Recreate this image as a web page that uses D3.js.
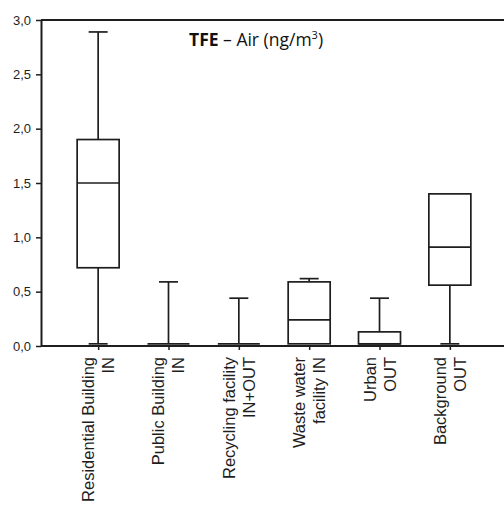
<!DOCTYPE html>
<meta charset="utf-8">
<head>
<style>
  body { margin: 0; background: white; font-family: "Liberation Sans", Arial, sans-serif; }
  svg { display: block; }
</style>
<script src="https://cdn.jsdelivr.net/npm/d3@7"></script>
</head>
<body>
<svg id="chart"></svg>
<script>
// label lines for each group (two lines each, drawn rotated)
let labelTop = ["Residential Building", "Public Building", "Recycling facility", "Waste water", "Urban", "Background"]
let labelBottom = ["IN", "IN", "IN+OUT", "facility IN", "OUT", "OUT"]

// box plot statistics (ng/m3)
let whiskerLow = [0.02, 0.02, 0.02, 0.02, 0.02, 0.02]
let q1 = [0.72, 0.02, 0.02, 0.02, 0.02, 0.56]
let median = [1.50, 0.02, 0.02, 0.24, 0.02, 0.91]
let q3 = [1.90, 0.02, 0.02, 0.59, 0.13, 1.40]
let whiskerHigh = [2.89, 0.59, 0.44, 0.62, 0.44, 1.40]

let yTicks = [0, 0.5, 1.0, 1.5, 2.0, 2.5, 3.0]

let width = 504, height = 505
let margin = {top: 20, left: 41, bottom: 159, right: -3}
let ink = "#1e1e1e"

let svg = d3.select("#chart").attr("width", width).attr("height", height)

let boxes = labelTop.map((name, i) => ({
  name, line2: labelBottom[i],
  lo: whiskerLow[i], q1: q1[i], med: median[i], q3: q3[i], hi: whiskerHigh[i]
}))

let x = d3.scalePoint()
  .domain(boxes.map(d => d.name))
  .range([margin.left, width - margin.right])
  .padding(0.8125)

let y = d3.scaleLinear()
  .domain([0, 3])
  .range([height - margin.bottom, margin.top])

let boxW = 42, capW = 19

// frame: top line
svg.append("line")
  .attr("x1", margin.left).attr("x2", width + 5)
  .attr("y1", y(3)).attr("y2", y(3))
  .attr("stroke", ink).attr("stroke-width", 2)

// y axis
let yAxis = d3.axisLeft(y)
  .tickValues(yTicks)
  .tickSize(5)
  .tickSizeOuter(0)
  .tickPadding(5)
  .tickFormat(d => d3.format(".1f")(d).replace(".", ","))

let gy = svg.append("g")
  .attr("transform", `translate(${margin.left},0)`)
  .call(yAxis)
gy.select(".domain").attr("stroke", ink).attr("stroke-width", 2)
gy.selectAll(".tick line").attr("stroke", ink).attr("stroke-width", 1.5)
gy.selectAll(".tick text")
  .attr("fill", ink)
  .style("font-family", "Arial, 'Liberation Sans', sans-serif")
  .style("font-size", "13px")

// x axis
let xAxis = d3.axisBottom(x).tickSize(4).tickSizeOuter(0).tickFormat("")
let gx = svg.append("g")
  .attr("transform", `translate(0,${y(0)})`)
  .call(xAxis)
gx.select(".domain").attr("stroke", ink).attr("stroke-width", 2)
  .attr("d", `M${margin.left},0H${width + 5}`)
gx.selectAll(".tick line").attr("stroke", ink).attr("stroke-width", 1.5)

// rotated two-line labels
let labels = svg.append("g").selectAll("g")
  .data(boxes)
  .enter()
  .append("g")
  .attr("transform", d => `translate(${x(d.name)},${y(0) + 11}) rotate(-90)`)
  .style("font-family", "Arial, 'Liberation Sans', sans-serif")
  .style("font-size", "16.5px")
  .attr("fill", ink)
  .attr("text-anchor", "end")

labels.append("text").attr("x", 0).attr("y", -4).text(d => d.name)
labels.append("text").attr("x", 0).attr("y", 16).text(d => d.line2)

// boxes and whiskers
let g = svg.append("g").selectAll("g")
  .data(boxes)
  .enter()
  .append("g")
  .attr("fill", "none")
  .attr("stroke", ink)
  .attr("stroke-width", 1.7)

g.filter(d => d.hi > d.q3).append("line")
  .attr("x1", d => x(d.name)).attr("x2", d => x(d.name))
  .attr("y1", d => y(d.q3)).attr("y2", d => y(d.hi))
g.filter(d => d.hi > d.q3).append("line")
  .attr("x1", d => x(d.name) - capW / 2).attr("x2", d => x(d.name) + capW / 2)
  .attr("y1", d => y(d.hi)).attr("y2", d => y(d.hi))

g.filter(d => d.lo < d.q1).append("line")
  .attr("x1", d => x(d.name)).attr("x2", d => x(d.name))
  .attr("y1", d => y(d.q1)).attr("y2", d => y(d.lo))
g.filter(d => d.lo < d.q1).append("line")
  .attr("x1", d => x(d.name) - capW / 2).attr("x2", d => x(d.name) + capW / 2)
  .attr("y1", d => y(d.lo)).attr("y2", d => y(d.lo))

g.append("rect")
  .attr("x", d => x(d.name) - boxW / 2)
  .attr("width", boxW)
  .attr("y", d => y(d.q3))
  .attr("height", d => y(d.q1) - y(d.q3))

g.append("line")
  .attr("x1", d => x(d.name) - boxW / 2).attr("x2", d => x(d.name) + boxW / 2)
  .attr("y1", d => y(d.med)).attr("y2", d => y(d.med))

// title
let title = svg.append("text")
  .attr("x", 189).attr("y", 46)
  .attr("fill", "#111")
  .style("font-family", "'Open Sans', sans-serif")
  .style("font-size", "17.5px")
title.append("tspan").attr("font-weight", "bold").text("TFE")
title.append("tspan").text(" \u2013 Air (ng/m")
title.append("tspan").attr("dy", -7).style("font-size", "11px").text("3")
title.append("tspan").attr("dy", 7).text(")")
</script>
</body>
